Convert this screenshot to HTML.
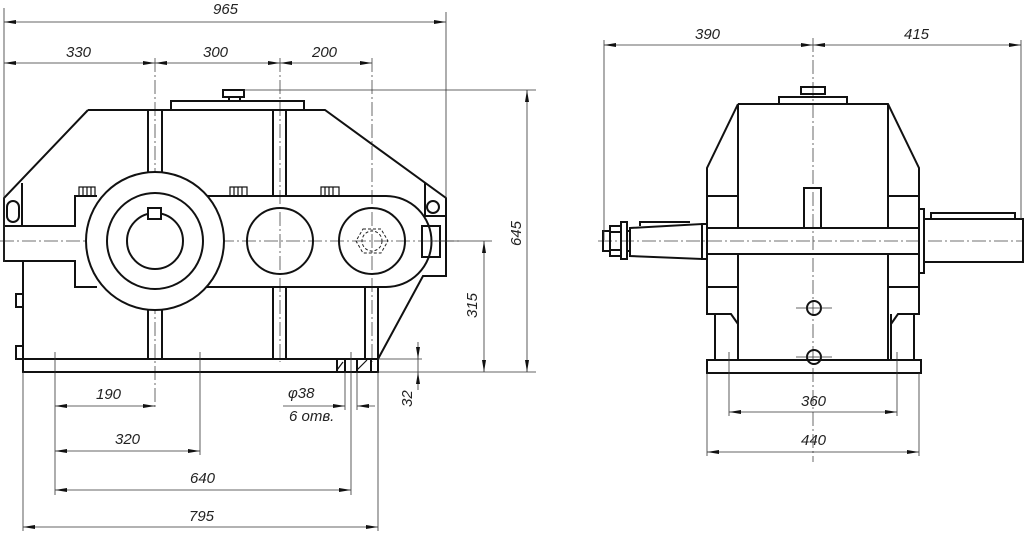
<!DOCTYPE html>
<html><head><meta charset="utf-8"><style>
html,body{margin:0;padding:0;background:#fff;}
svg{display:block}
text{font-family:"Liberation Sans",sans-serif;font-style:italic;font-size:15px;fill:#222;}
.k{stroke:#111;stroke-width:2;fill:none}
.t{stroke:#333;stroke-width:0.8;fill:none}
.c{stroke:#444;stroke-width:0.8;fill:none;stroke-dasharray:14 3 2 3}
.d{stroke:#222;stroke-width:1;fill:none;stroke-dasharray:3 2}
</style></head><body>
<svg width="1024" height="533" viewBox="0 0 1024 533" xmlns="http://www.w3.org/2000/svg">
<defs>
<marker id="a" viewBox="0 0 12 4" refX="12" refY="2" markerWidth="12" markerHeight="4" markerUnits="userSpaceOnUse" orient="auto-start-reverse"><path d="M0,0 L12,2 L0,4 z" fill="#111"/></marker>
</defs>
<!-- LEFT VIEW -->
<g class="c">
<line x1="0" y1="241" x2="462" y2="241"/>
<line x1="155" y1="58" x2="155" y2="410"/>
<line x1="280" y1="58" x2="280" y2="362"/>
<line x1="372" y1="58" x2="372" y2="362"/>
</g>
<g class="k">
<rect x="171" y="101" width="133" height="9"/>
<rect x="223" y="90" width="21" height="7"/>
<rect x="229" y="97" width="11" height="4"/>
<path d="M88,110 H325 L446,198 V276 H423 L378,359"/>
<path d="M88,110 L4,198 V261 H75 V287 H97"/>
<path d="M4,226 H75 V196 H97"/>
<line x1="22" y1="183" x2="22" y2="226"/>
<rect x="7" y="201" width="12" height="21" rx="6"/>
<line x1="425" y1="183" x2="425" y2="216"/>
<circle cx="433" cy="207" r="6"/>
<path d="M423,216 H446"/>
<rect x="422" y="226" width="18" height="31"/>
<path d="M205,196 H386 A45.5,45.5 0 0 1 386,287 H205"/>
<circle cx="155" cy="241" r="69" fill="#fff"/>
<circle cx="155" cy="241" r="48"/>
<circle cx="155" cy="241" r="28"/>
<rect x="148" y="208" width="13" height="11" fill="#fff"/>
<circle cx="280" cy="241" r="33"/>
<circle cx="372" cy="241" r="33"/>
<path d="M23,261 V373"/>
<rect x="23" y="359" width="355" height="13"/>
<path d="M148,110 V172 M162,110 V172 M148,310 V359 M162,310 V359"/>
<path d="M273,110 V196 M286,110 V196 M273,287 V359 M286,287 V359"/>
<path d="M365,287 V359 M378,287 V359"/>
<rect x="16" y="294" width="7" height="13"/>
<rect x="16" y="346" width="7" height="13"/>
<rect x="337" y="359" width="34" height="13"/>
<path d="M345,359 V372 M357,359 V372"/>
</g>
<g stroke="#111" stroke-width="1.2" fill="none">
<rect x="79" y="187" width="16" height="9"/><path d="M83,187V196M87,187V196M91,187V196"/>
<rect x="230" y="187" width="17" height="9"/><path d="M234,187V196M238,187V196M242,187V196"/>
<rect x="321" y="187" width="18" height="9"/><path d="M325,187V196M329,187V196M333,187V196"/>
<path d="M337,370 L343,362 M357,370 L367,360"/>
</g>
<path class="d" d="M363,229 L381,229 L388,241 L381,253 L363,253 L356,241 Z"/>
<circle class="d" cx="372" cy="241" r="10"/>
<!-- left dims -->
<g class="t">
<line x1="4" y1="8" x2="4" y2="262"/>
<line x1="446" y1="12" x2="446" y2="198"/>
<line x1="4" y1="22" x2="446" y2="22" marker-start="url(#a)" marker-end="url(#a)"/>
<line x1="4" y1="63" x2="155" y2="63" marker-start="url(#a)" marker-end="url(#a)"/>
<line x1="155" y1="63" x2="280" y2="63" marker-start="url(#a)" marker-end="url(#a)"/>
<line x1="280" y1="63" x2="372" y2="63" marker-start="url(#a)" marker-end="url(#a)"/>
<line x1="244" y1="90" x2="536" y2="90"/>
<line x1="378" y1="372" x2="536" y2="372"/>
<line x1="378" y1="359" x2="422" y2="359"/>
<line x1="430" y1="241" x2="492" y2="241"/>
<line x1="527" y1="90" x2="527" y2="372" marker-start="url(#a)" marker-end="url(#a)"/>
<line x1="484" y1="241" x2="484" y2="372" marker-start="url(#a)" marker-end="url(#a)"/>
<line x1="418" y1="342" x2="418" y2="359" marker-end="url(#a)"/>
<line x1="418" y1="390" x2="418" y2="372" marker-end="url(#a)"/>
<line x1="418" y1="359" x2="418" y2="372"/>
<line x1="55" y1="352" x2="55" y2="495"/>
<line x1="200" y1="352" x2="200" y2="455"/>
<line x1="351" y1="352" x2="351" y2="495"/>
<line x1="345" y1="372" x2="345" y2="410"/>
<line x1="357" y1="372" x2="357" y2="410"/>
<line x1="23" y1="372" x2="23" y2="531"/>
<line x1="378" y1="372" x2="378" y2="531"/>
<line x1="55" y1="406" x2="155" y2="406" marker-start="url(#a)" marker-end="url(#a)"/>
<line x1="55" y1="451" x2="200" y2="451" marker-start="url(#a)" marker-end="url(#a)"/>
<line x1="55" y1="490" x2="351" y2="490" marker-start="url(#a)" marker-end="url(#a)"/>
<line x1="23" y1="527" x2="378" y2="527" marker-start="url(#a)" marker-end="url(#a)"/>
<line x1="283" y1="406" x2="345" y2="406" marker-end="url(#a)"/>
<line x1="375" y1="406" x2="357" y2="406" marker-end="url(#a)"/>
</g>
<text x="213" y="14">965</text>
<text x="66" y="57">330</text>
<text x="203" y="57">300</text>
<text x="312" y="57">200</text>
<text x="96" y="399">190</text>
<text x="115" y="444">320</text>
<text x="190" y="483">640</text>
<text x="189" y="521">795</text>
<text x="288" y="398">φ38</text>
<text x="289" y="421">6 отв.</text>
<text transform="translate(521,246) rotate(-90)">645</text>
<text transform="translate(477,318) rotate(-90)">315</text>
<text transform="translate(412,407) rotate(-90)">32</text>
<!-- RIGHT VIEW -->
<g class="c">
<line x1="598" y1="241" x2="1024" y2="241"/>
<line x1="813" y1="38" x2="813" y2="462"/>
</g>
<g class="k">
<rect x="779" y="97" width="68" height="7"/>
<rect x="801" y="87" width="24" height="7"/>
<path d="M738,104 H888 L919,168 V314 H914 V360 M738,104 L707,168 V314 H715 V360"/>
<path d="M738,104 V228 M888,104 V228 M738,254 V360 M888,254 V360"/>
<path d="M707,196 H738 M707,287 H738 M888,196 H919 M888,287 H919"/>
<path d="M707,314 H731 L738,324 M919,314 H898 L891,324 M891,314 V360"/>
<rect x="707" y="360" width="214" height="13"/>
<rect x="707" y="228" width="212" height="26"/>
<rect x="804" y="188" width="17" height="40"/>
<circle cx="814" cy="308" r="7"/>
<circle cx="814" cy="357" r="7"/>
<path d="M630,228 L702,224 V259 L630,256 Z"/>
<path d="M640,226 V222 H690"/>
<rect x="702" y="224" width="5" height="35"/>
<rect x="621" y="222" width="6" height="37"/>
<rect x="610" y="226" width="11" height="30"/>
<rect x="603" y="231" width="7" height="20"/>
<path d="M610,232 H621 M610,250 H621 M627,231 H630 M627,251 H630"/>
<rect x="919" y="209" width="5" height="64"/>
<rect x="924" y="219" width="99" height="43"/>
<rect x="931" y="213" width="84" height="6"/>
</g>
<g class="t">
<line x1="796" y1="308" x2="832" y2="308"/>
<line x1="796" y1="357" x2="832" y2="357"/>
<line x1="604" y1="40" x2="604" y2="240"/>
<line x1="1021" y1="40" x2="1021" y2="219"/>
<line x1="604" y1="45" x2="813" y2="45" marker-start="url(#a)" marker-end="url(#a)"/>
<line x1="813" y1="45" x2="1021" y2="45" marker-start="url(#a)" marker-end="url(#a)"/>
<line x1="729" y1="352" x2="729" y2="416"/>
<line x1="897" y1="352" x2="897" y2="416"/>
<line x1="707" y1="373" x2="707" y2="456"/>
<line x1="919" y1="373" x2="919" y2="456"/>
<line x1="729" y1="412" x2="897" y2="412" marker-start="url(#a)" marker-end="url(#a)"/>
<line x1="707" y1="452" x2="919" y2="452" marker-start="url(#a)" marker-end="url(#a)"/>
</g>
<text x="695" y="39">390</text>
<text x="904" y="39">415</text>
<text x="801" y="406">360</text>
<text x="801" y="445">440</text>
</svg>
</body></html>
